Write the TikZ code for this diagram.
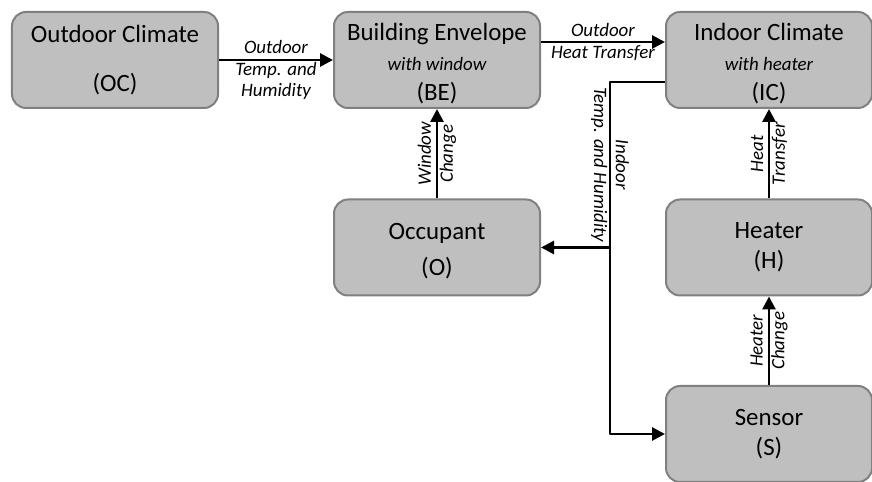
\documentclass[tikz,border=0pt]{standalone}
\usepackage{fontspec}
\setmainfont{Carlito}
\usetikzlibrary{arrows.meta}
\begin{document}
\begin{tikzpicture}[x=1bp,y=1bp,>={Triangle[length=13bp,width=13bp]},line join=round,
	box/.style={draw=black!50,fill=black!25,line width=2bp,rounded corners=14bp,minimum width=206bp,minimum height=96bp,inner sep=0pt,align=center,font=\fontsize{25}{30}\selectfont},
	lab/.style={font=\fontsize{19}{22}\selectfont\itshape,align=center,inner sep=1bp},
	flow/.style={->,line width=2.8bp}]
		\def\withtxt#1{{\fontsize{19}{28}\selectfont\itshape #1}}
		\def\topgap{\rule{0pt}{24bp}}
		\useasboundingbox (0,0) rectangle (872,482);
		% blocks
		\node[box] (oc) at (115,422) {Outdoor Climate\\[19bp](OC)};
		\node[box] (be) at (437,422) {\topgap Building Envelope\\\withtxt{with window}\\(BE)};
		\node[box] (ic) at (769,422) {\topgap Indoor Climate\\\withtxt{with heater}\\(IC)};
		\node[box] (occ) at (437,234.5) {\topgap Occupant\\[6bp](O)};
		\node[box] (heat) at (769,234.5) {Heater\\(H)};
		\node[box] (sens) at (769,48) {Sensor\\(S)};
		\coordinate (tap) at (610,234.5);
		% signals
		\draw[flow] (oc) -- node[lab,yshift=-10bp]{Outdoor\\Temp. and\\Humidity} (be);
		\draw[flow] ([yshift=18bp]be.east) -- node[lab]{Outdoor\\Heat Transfer} ([yshift=18bp]ic.west);
		\draw[flow] ([yshift=-22bp]ic.west) -| node[lab,pos=.75,rotate=-90]{Indoor\\Temp. and Humidity} (tap) |- (sens.west);
		\draw[flow] (tap) -- (occ.east);
		\draw[flow] (occ) -- node[lab,rotate=90]{Window\\Change} (be);
		\draw[flow] (heat) -- node[lab,rotate=90]{Heat\\Transfer} (ic);
		\draw[flow] (sens) -- node[lab,rotate=90]{Heater\\Change} (heat);
\end{tikzpicture}
\end{document}
